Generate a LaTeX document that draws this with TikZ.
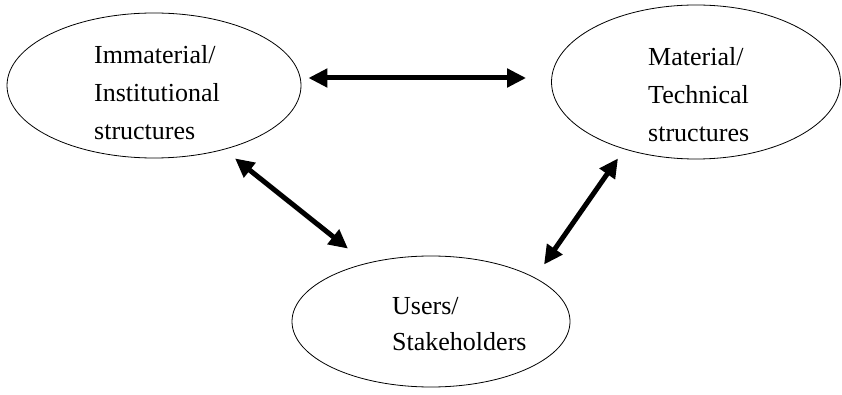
\documentclass[tikz,border=0pt]{standalone}
\usepackage{fontspec}
\setmainfont{Liberation Serif}
\usetikzlibrary{shapes.geometric,arrows.meta}

\begin{document}
\begin{tikzpicture}[x = 1pt, y = -1pt,
                    oval/.style = {ellipse, draw, line width = 0.8pt, inner sep = 0pt},
                    words/.style = {anchor = north west, inner sep = 0pt, align = left,
                                    font = \fontsize{26}{38}\selectfont},
                    twoway/.style = {line width = 5pt,
                                     {Triangle[length = 19pt, width = 18pt]}-{Triangle[length = 19pt, width = 18pt]}}]
  \useasboundingbox (0, 0) rectangle (842, 395);
  \node [oval, minimum width = 294pt, minimum height = 145pt] (inst) at (154, 85.5){};
  \node [oval, minimum width = 289pt, minimum height = 154pt] (tech) at (696, 82){};
  \node [oval, minimum width = 278pt, minimum height = 131pt] (users) at (431, 321.5){};
  \node [words] (insttext) at (94, 45) {Immaterial/\\Institutional\\structures};
  \node [words] (techtext) at (648, 47) {Material/\\Technical\\structures};
  \node [words, font = \fontsize{26}{36}\selectfont] (userstext) at (392, 297) {Users/\\Stakeholders};
  \draw [twoway] ([shift = {(7, -7.5)}]inst.east) -- ([shift = {(-25, -4)}]tech.west);
  \draw [twoway] ([shift = {(81, 0)}]inst.south) -- ([shift = {(-83, -7)}]users.north);
  \draw [twoway] ([shift = {(-78, -1)}]tech.south) -- ([shift = {(113, 9)}]users.north);
\end{tikzpicture}
\end{document}
